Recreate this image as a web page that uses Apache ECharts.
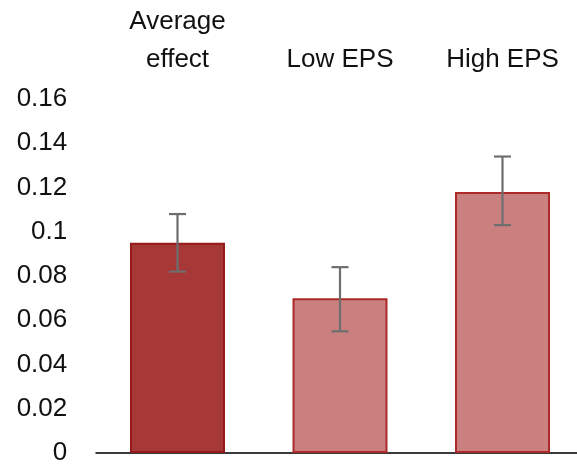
<!DOCTYPE html>
<html>
<head>
<meta charset="utf-8">
<script src="https://cdn.jsdelivr.net/npm/echarts@6/dist/echarts.min.js"></script>
<style>html,body{margin:0;padding:0;background:#fff}#c{width:577px;height:466px}</style>
</head>
<body>
<div id="c"></div>
<script>
const categories = ['Average\neffect', 'Low EPS', 'High EPS'];
const values = [0.095, 0.070, 0.118];
const errLow = [0.082, 0.055, 0.103];
const errHigh = [0.108, 0.084, 0.134];
const yTicks = [0, 0.16, 0.02];

const barFills = ['#a63838', '#cb8080', '#cb8080'];
const barBorders = ['#961a1a', '#ac2a2a', '#ac2a2a'];
const FONT = '"Liberation Sans", Arial, sans-serif';

const chart = echarts.init(document.getElementById('c'), null, {renderer: 'canvas'});
chart.setOption({
  animation: false,
  backgroundColor: '#fff',
  grid: {left: 96.25, top: 99, width: 487.5, height: 354, containLabel: false, outerBoundsMode: 'none'},
  xAxis: [
    {type: 'category', data: categories, position: 'bottom',
     axisLine: {show: true, lineStyle: {color: '#3a3a3a', width: 2}},
     axisTick: {show: false}, axisLabel: {show: false}},
    {type: 'category', data: categories, position: 'top',
     axisLine: {show: false}, axisTick: {show: false},
     axisLabel: {show: true, margin: 20, color: '#111', fontSize: 26, fontFamily: FONT, lineHeight: 38, interval: 0}}
  ],
  yAxis: {
    type: 'value', min: yTicks[0], max: yTicks[1], interval: yTicks[2],
    axisLine: {show: false}, axisTick: {show: false}, splitLine: {show: false},
    axisLabel: {margin: 29, color: '#111', fontSize: 26, fontFamily: FONT,
      formatter: v => String(parseFloat(v.toFixed(2)))}
  },
  series: [
    {type: 'bar', xAxisIndex: 0, barWidth: 95,
     data: values.map((v, i) => ({value: v, itemStyle: {color: barFills[i], borderColor: barBorders[i], borderWidth: 2}}))},
    {type: 'custom', xAxisIndex: 0,
     data: categories.map((c, i) => [i, errLow[i], errHigh[i]]),
     renderItem: function (params, api) {
       const x = api.value(0);
       const lo = api.coord([x, api.value(1)]);
       const hi = api.coord([x, api.value(2)]);
       const hw = 8.5;
       const style = {stroke: '#6e6e6e', lineWidth: 2.2, fill: null};
       return {type: 'group', children: [
         {type: 'line', shape: {x1: lo[0], y1: lo[1], x2: hi[0], y2: hi[1]}, style: style},
         {type: 'line', shape: {x1: lo[0] - hw, y1: lo[1], x2: lo[0] + hw, y2: lo[1]}, style: style},
         {type: 'line', shape: {x1: hi[0] - hw, y1: hi[1], x2: hi[0] + hw, y2: hi[1]}, style: style}
       ]};
     }, z: 5}
  ]
});
</script>
</body>
</html>
